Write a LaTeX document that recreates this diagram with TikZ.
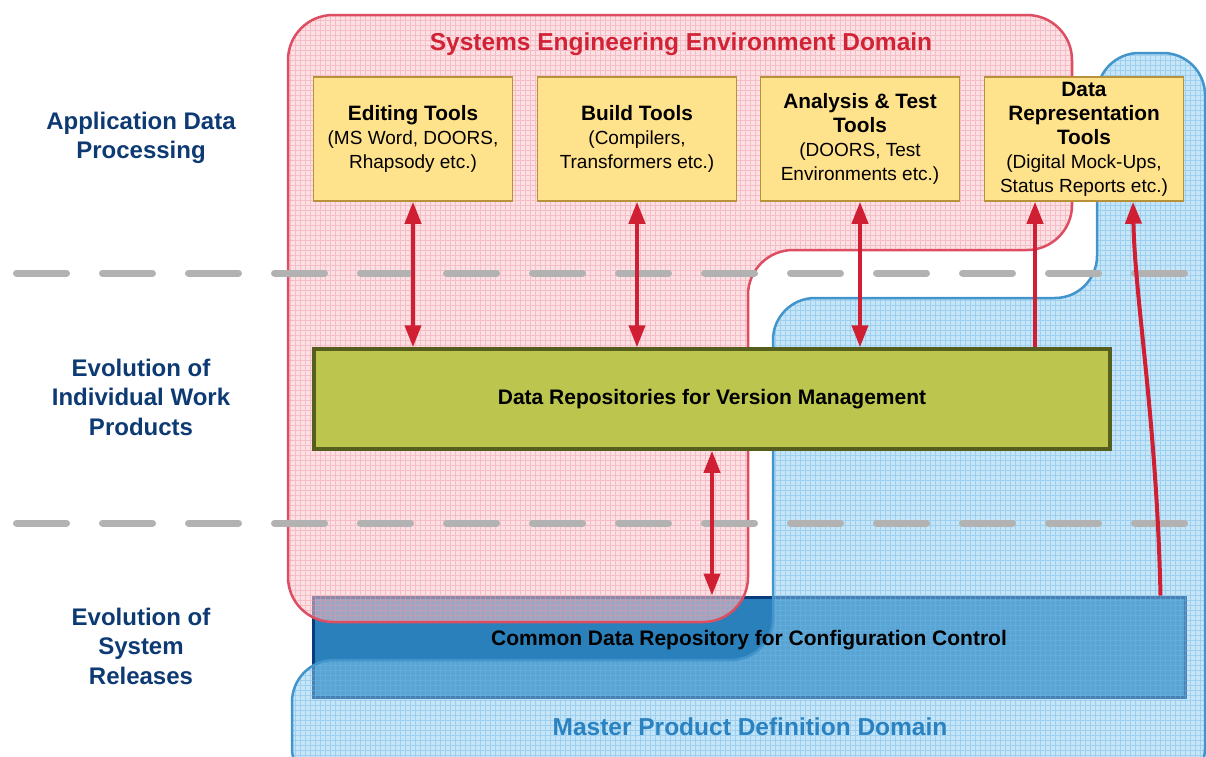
\documentclass[tikz,border=0pt]{standalone}
\usepackage{fontspec}
\setmainfont{Liberation Sans}
\usetikzlibrary{arrows.meta,calc}
\definecolor{pinkd}{RGB}{250,199,204}
\definecolor{pinkgrid}{RGB}{238,150,166}
\definecolor{pinkline}{RGB}{222,78,98}
\definecolor{blued}{RGB}{140,202,239}
\definecolor{bluegrid}{RGB}{105,182,232}
\definecolor{blueline}{RGB}{66,148,204}
\definecolor{navy}{RGB}{14,58,115}
\definecolor{titlered}{RGB}{210,34,54}
\definecolor{titleblue}{RGB}{42,130,192}
\definecolor{toolfill}{RGB}{255,226,140}
\definecolor{tooldraw}{RGB}{184,146,58}
\definecolor{greenfill}{RGB}{188,197,78}
\definecolor{greendraw}{RGB}{85,94,28}
\definecolor{cdrfill}{RGB}{42,128,186}
\definecolor{cdrdraw}{RGB}{10,60,125}
\definecolor{arrowred}{RGB}{208,30,50}
\definecolor{dashgray}{RGB}{178,178,178}
\newcommand\tooltitle{\fontsize{20.8}{24.5}\selectfont\bfseries}
\begin{document}
\begin{tikzpicture}[x=1pt,y=-1pt,
  tool/.style={draw=tooldraw, line width=1.5pt, fill=toolfill, minimum width=199pt,
    minimum height=124pt, inner sep=0pt, align=center, font=\fontsize{19}{24}\selectfont},
  greenbox/.style={draw=greendraw, line width=3.5pt, fill=greenfill, minimum width=796pt,
    minimum height=100pt, inner sep=0pt, font=\fontsize{21}{25}\selectfont\bfseries},
  cdrbox/.style={draw=cdrdraw, line width=3pt, fill=cdrfill, minimum width=872pt,
    minimum height=100pt, inner sep=0pt},
  cdrtext/.style={font=\fontsize{21}{25}\selectfont\bfseries, inner sep=0pt},
  lane/.style={text=navy, align=center, font=\fontsize{24}{29.5}\selectfont\bfseries},
  domtitle/.style={font=\fontsize{24.5}{29}\selectfont\bfseries, inner sep=0pt},
  redarrow/.style={draw=arrowred, line width=4pt, arrows={-Triangle[length=22pt,width=16pt]}},
  redboth/.style={draw=arrowred, line width=4pt, arrows={Triangle[length=22pt,width=16pt]-Triangle[length=22pt,width=16pt]}},
  dashline/.style={draw=dashgray, line width=7pt, line cap=round, dash pattern=on 50pt off 36pt},
  gridlines/.style={line width=0.7pt, step=5pt}
]
\clip (0,0) rectangle (1206,756);
\fill[white] (0,0) rectangle (1206,756);

% common data repository box (under domains)
\node[cdrbox] (cdr) at (749,647) {};

% pink domain
\path[rounded corners=45pt, save path=\pinkp] (288,15) -- (1072,15) -- (1072,250) -- (748,250) -- (748,622) -- (288,622) -- cycle;
\begin{scope}
  \clip[use path=\pinkp];
  \fill[pinkd, opacity=0.55] (280,0) rectangle (1206,640);
  \draw[pinkgrid, opacity=0.45, gridlines] (280,0) grid (1100,640);
\end{scope}
\path[draw=pinkline, line width=2.5pt, use path=\pinkp];

% blue domain
\path[rounded corners=42pt, save path=\bluep] (292,790) -- (292,660) -- (773,660) -- (773,298) -- (1097,298) -- (1097,53) -- (1205,53) -- (1205,790) -- cycle;
\begin{scope}
  \clip[use path=\bluep];
  \fill[blued, opacity=0.49] (280,0) rectangle (1220,800);
  \draw[bluegrid, opacity=0.45, gridlines] (280,0) grid (1220,800);
\end{scope}
\path[draw=blueline, line width=2.5pt, use path=\bluep];

% lane separators
\draw[dashline] (16.5,273) -- (1184.5,273);
\draw[dashline] (16.5,523) -- (1184.5,523);

% tool boxes
\node[tool] (edit) at (413,139) {\tooltitle Editing Tools\\(MS Word, DOORS,\\Rhapsody etc.)};
\node[tool] (build) at (637,139) {\tooltitle Build Tools\\(Compilers,\\Transformers etc.)};
\node[tool] (anal) at (860,139) {\tooltitle Analysis \& Test\\\tooltitle Tools\\(DOORS, Test\\Environments etc.)};
\node[tool] (datarep) at (1084,139) {\tooltitle Data\\\tooltitle Representation\\\tooltitle Tools\\(Digital Mock-Ups,\\Status Reports etc.)};

% version management
\node[greenbox] (vm) at (712,399) {Data Repositories for Version Management};
\node[cdrtext] (cdrlabel) at (749,640) {Common Data Repository for Configuration Control};

% titles
\node[domtitle, text=titlered] (setitle) at (681,44) {Systems Engineering Environment Domain};
\node[domtitle, text=titleblue] (mpdtitle) at (750,727) {Master Product Definition Domain};

% lane labels
\node[lane] (l1) at (141,138) {Application Data\\Processing};
\node[lane] (l2) at (141,397) {Evolution of\\Individual Work\\Products};
\node[lane] (l3) at (141,646) {Evolution of\\System\\Releases};

% arrows
\draw[redboth] (edit.south) -- (edit.south |- vm.north);
\draw[redboth] (build.south) -- (build.south |- vm.north);
\draw[redboth] (anal.south) -- (anal.south |- vm.north);
\coordinate (drl) at ($(datarep.south)+(-49,0)$);
\coordinate (drr) at ($(datarep.south)+(49,0)$);
\coordinate (cdrr) at ($(cdr.north east)+(-26,0)$);
\draw[redarrow] (drl |- vm.north) -- (drl);
\draw[redboth] (vm.south) -- (vm.south |- cdr.north);
\draw[redarrow] (cdrr) .. controls ($(cdrr)+(-4,-177)$) and ($(drr)+(2,99)$) .. (drr);
\end{tikzpicture}
\end{document}
